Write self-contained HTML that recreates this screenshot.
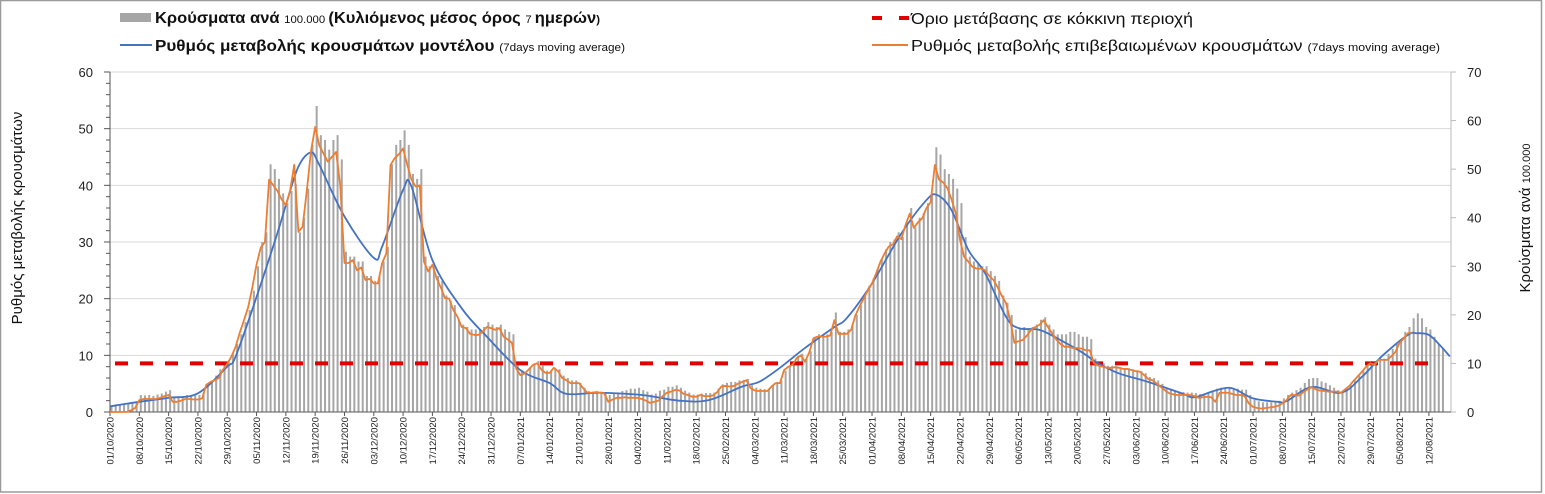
<!DOCTYPE html>
<html><head><meta charset="utf-8">
<style>
html,body{margin:0;padding:0;background:#fff;}
svg{display:block;font-family:"Liberation Sans",sans-serif;}
</style></head>
<body>
<svg id="chart" width="1545" height="494" viewBox="0 0 1545 494" xmlns="http://www.w3.org/2000/svg">
<rect x="0.5" y="0.5" width="1541" height="491.5" fill="#fff" stroke="#9a9a9a" stroke-width="1.5"/>
<g id="grid"></g>
<g id="bars"></g>
<g id="axes"></g>
<g id="lines"></g>
<g>
  <g>
    <rect x="120" y="13" width="31" height="9" fill="#a6a6a6"/>
    <text x="155" y="23" font-size="16" font-weight="600" fill="#111" textLength="445" lengthAdjust="spacingAndGlyphs">Κρούσματα ανά <tspan font-size="11" font-weight="normal">100.000 </tspan>(Κυλιόμενος μέσος όρος <tspan font-size="11" font-weight="normal">7 </tspan>ημερών<tspan font-size="11">)</tspan></text>
  </g>
  <g>
    <line x1="120" y1="45" x2="152" y2="45" stroke="#4472c4" stroke-width="2"/>
    <text x="155" y="51" font-size="16" font-weight="600" fill="#111" textLength="470" lengthAdjust="spacingAndGlyphs">Ρυθμός μεταβολής κρουσμάτων μοντέλου <tspan font-size="11" font-weight="normal">(7days moving average)</tspan></text>
  </g>
  <g>
    <line x1="872" y1="18" x2="882" y2="18" stroke="#e00000" stroke-width="4"/>
    <line x1="899" y1="18" x2="909" y2="18" stroke="#e00000" stroke-width="4"/>
    <text x="911" y="24" font-size="16" fill="#111" textLength="282" lengthAdjust="spacingAndGlyphs">Όριο μετάβασης σε κόκκινη περιοχή</text>
  </g>
  <g>
    <line x1="872" y1="45" x2="908" y2="45" stroke="#ed7d31" stroke-width="2"/>
    <text x="911" y="51" font-size="16" fill="#111" textLength="529" lengthAdjust="spacingAndGlyphs">Ρυθμός μεταβολής επιβεβαιωμένων κρουσμάτων <tspan font-size="11">(7days moving average)</tspan></text>
  </g>
</g>
<text transform="translate(22,218) rotate(-90)" text-anchor="middle" font-size="15" fill="#111">Ρυθμός μεταβολής κρουσμάτων</text>
<text transform="translate(1530,218) rotate(-90)" text-anchor="middle" font-size="15" fill="#111">Κρούσματα ανά <tspan font-size="11">100.000</tspan></text>
</svg>
<script>
const orangeValues = [
0,0,0,0,0,0.3,0.7,
2.1,2.3,2.3,2.3,2.3,2.5,2.8,
3.0,1.8,1.8,2.0,2.3,2.3,2.2,
2.2,2.4,4.8,5.3,5.6,6.0,7.5,
8.5,9.8,11.5,14,16.2,18.5,22,
26,29,30,41,40,39,37.5,
36.5,39,43.6,31.8,32.7,39,46,
50.3,47,45.6,44.2,45,45.9,40,
26.3,26.3,26.8,25,25.5,23.3,23.5,
22.7,22.7,26.3,28,43.6,44.8,45.5,
46.5,43.6,41,39.8,40,26.5,24.8,
26,23.6,22,20.1,20,18,16.8,
15,14.8,13.8,13.6,13.6,14.2,15,
14.8,14.5,14.8,13.3,12.8,12.2,7.7,
6.5,6.8,7.5,8.3,8.6,7.5,6.9,
6.9,7.8,7.2,6.0,5.6,5.1,5.1,
5.1,4.2,3.4,3.4,3.5,3.4,3.3,
1.8,2.2,2.5,2.5,2.6,2.5,2.5,
2.5,2.3,2.0,1.6,1.8,2.0,2.8,
3.4,3.6,3.9,3.8,3.2,3.0,2.7,
2.7,3.0,2.8,2.8,2.9,3.5,4.5,
4.6,4.5,4.6,5.0,5.3,5.6,4.2,
3.8,3.7,3.7,3.7,4.5,5.1,5.1,
7.4,8.0,8.3,9.5,10,8.9,10.5,
13,13.3,13.3,13.3,13.5,16.2,13.8,
13.8,13.8,14.5,17,18.6,20,21.5,
22.7,24.5,26.5,28,29.2,29.6,31,
30.5,33,35,32.5,33.5,34.2,36,
37,43.6,41,40.5,39.5,37.5,35.1,
30.4,27.4,26.5,25.6,25.3,25.3,25,
24,23.3,22,20.5,19.2,16.2,12.2,
12.5,12.7,13.5,14.5,15,15.4,16.2,
15,13.9,12.8,12,11.5,11.5,11.3,
11.3,11.2,10.9,10.9,8.6,8.2,8.0,
7.8,7.8,7.9,7.8,7.6,7.6,7.4,
7.2,7.1,6.5,5.8,5.6,5.0,4.4,
3.8,3.3,3.1,3.0,3.0,3.0,3.0,
2.8,2.5,2.6,2.7,2.6,1.8,3.4,
3.4,3.4,3.2,3.0,3.0,2.8,1.5,
0.9,0.7,0.6,0.7,0.8,0.9,1.1,
1.5,2.1,3.0,3.0,2.9,3.5,4.0,
4.4,4.0,3.8,3.7,3.6,3.6,3.6,
3.4,4.0,4.6,5.5,6.3,7.1,8.0,
8.6,8.3,9.2,9.2,9.2,9.8,10.6,
12.2,13,13.9,14];

const barValues = [
1.2,1.4,1.5,1.6,1.7,1.8,2.2,
3.5,3.4,3.5,3.3,3.6,3.8,4.2,
4.5,3.2,2.9,3.0,3.5,3.3,3.4,
3.5,4,5.5,6.5,7.5,8.8,10,
10.5,12,14,16,18.5,21,25,
30,35,37,51,50,48,45,
43,45.5,47,37,40,46,55,
63,57,56,54,56,57,52,
33,32,32,31,31,28,28,
27,28,31,34,51,55,56,
58,55,49,48,50,32,30,
30,28,27,24,23,22,19,
18,17.5,17,17,17,17.5,18.5,
18,17.5,18,17,16.5,16,10,
8.5,8,9,10,10.5,9.5,8.5,
8.5,9,8.8,7.5,7,6.5,6.5,
6,5,4.3,4.2,4.3,4.2,4.1,
3.5,3.8,4,4.3,4.5,4.8,4.8,
5,4.5,4.2,3.6,3.8,4.4,4.6,
5.2,5.2,5.5,5,4.4,4,3.6,
3.6,3.8,3.9,3.9,4,4.8,5.7,
6,6.2,6.2,6.5,6.6,6.8,5.5,
5,4.8,4.7,4.7,5.5,6.2,6.5,
8.5,9.5,10.5,11.5,12,11,12.5,
15.5,16,16,16,16.5,20.5,16.5,
16.5,17,18,20,22,24,26,
27.5,29.5,31.5,33.5,35,35.5,37,
36,39,42,38,40,41,43,
45,54.5,53,50,49,48,46,
43,36,32,31,30.5,30,30,
29,28,27,24,22.5,20,17,
17,17.5,17,17.5,18,19,19.5,
18,17,16,16,16,16.5,16.5,
16,15.5,15.5,15,11,10,10,
9.5,9.5,9.5,9.2,9,9,8.8,
8.6,8.4,8,7.2,7,6.5,5.8,
5,4.5,4.3,4.2,4.1,4,4,
3.9,3.7,3.8,4,4.4,4.8,5,
5,5,4.8,4.8,4.6,4.6,3.5,
2.5,2.2,2,2,2,2.1,2.3,
2.8,3.5,4,4.5,5,6,6.8,
7,7,6.3,6,5.5,5,4.5,
4,4.8,5.5,6.5,7.5,8.5,9.5,
10.5,10.5,11,11,12,13,14,
15,16.5,17.5,19.3,20.3,19.3,17.5,
17,15.5,14,13];

const blueDays = [0,7,14,21,28,30,35,40,42,45,48,50,56,63,65,70,72,77,84,90,98,105,109,117,127,136,143,151,155,160,166,173,176,182,189,195,197.5,201,205,209,214,217,222,227,232,236,241,248,256,259,264,268,273,279,281,287,294,299,304,310,312,315,318,320];
const blueValues = [1.0,1.8,2.5,3.3,8.0,9.8,20.3,31.6,36.5,43.3,45.8,43.6,34.5,27.2,29.2,39.2,39.8,26.8,18.3,13.3,7.4,5.1,3.2,3.4,3.0,2.0,2.1,4.5,5.3,7.8,11.3,15.0,16.6,22.7,31.5,37.4,38.3,35.6,28.6,24.5,16.8,14.8,14.5,12.7,10.6,8.6,6.8,5.3,3.3,2.6,3.8,4.2,2.4,1.8,1.9,4.4,3.4,6.2,10.0,13.6,13.9,13.6,11.5,9.8];

const leftTicks = [0,10,20,30,40,50,60];
const rightTicks = [0,10,20,30,40,50,60,70];
const thresholdValue = 10; // right axis units
const startDate = [2020,10,1]; // 01/10/2020 (year, month 1-12, day)
const weekCount = 46;

const X0 = 110, DAYPX = 4.187, YB = 412, YT = 72;
const xDay = d => X0 + d * DAYPX;
const yL = v => YB - v * (YB - YT) / 60;
const yR = v => YB - v * (YB - YT) / 70;
const NS = "http://www.w3.org/2000/svg";
function mk(tag, attrs, parent){const e=document.createElementNS(NS,tag);for(const k in attrs)e.setAttribute(k,attrs[k]);parent.appendChild(e);return e;}

const grid = document.getElementById('grid');
const axes = document.getElementById('axes');
const barsG = document.getElementById('bars');
const linesG = document.getElementById('lines');

leftTicks.forEach(v=>{
  if(v>0){
    const g = mk('line',{x1:X0,x2:1451,y1:yL(v),y2:yL(v),stroke:'#d9d9d9','stroke-width':1},grid);
    
    
  }
  const t = mk('text',{x:X0-17,y:yL(v)+5,'text-anchor':'end','font-size':13,fill:'#222'},axes);
  t.textContent = v;
  
  
});
for(let v=0; v<=60; v+=2){
  mk('line',{x1:X0-(v%10===0?6:4),x2:X0,y1:yL(v),y2:yL(v),stroke:'#555','stroke-width':1},axes);
}
mk('line',{x1:X0,x2:X0,y1:YT,y2:YB,stroke:'#555','stroke-width':1},axes);
mk('line',{x1:1451,x2:1451,y1:YT,y2:YB,stroke:'#bbb','stroke-width':1},axes);
rightTicks.forEach(v=>{
  mk('line',{x1:1451,x2:1456,y1:yR(v),y2:yR(v),stroke:'#bbb','stroke-width':1},axes);
  const t = mk('text',{x:1467,y:yR(v)+5,'font-size':13,fill:'#222'},axes);
  t.textContent = v;
  
  
});

barValues.forEach((v,i)=>{
  const b = mk('rect',{x:xDay(i)+0.5,y:yR(v),width:2,height:YB-yR(v),fill:'#a6a6a6'},barsG);
  
  
});

mk('line',{x1:X0,x2:1451,y1:YB,y2:YB,stroke:'#555','stroke-width':1},axes);
const pad = n => (n<10?'0':'')+n;
for(let w=0; w<weekCount; w++){
  const d = w*7;
  const x = xDay(d);
  mk('line',{x1:x,x2:x,y1:YB,y2:YB+4,stroke:'#555','stroke-width':1},axes);
  const dt = new Date(startDate[0],startDate[1]-1,startDate[2]+d);
  const lbl = pad(dt.getDate())+'/'+pad(dt.getMonth()+1)+'/'+dt.getFullYear();
  const t = mk('text',{transform:'translate('+(x+3.5)+',417) rotate(-90)','text-anchor':'end','font-size':9.5,fill:'#222'},axes);
  t.textContent = lbl;
  
  
}

const thr = mk('line',{x1:115,x2:1440,y1:yR(thresholdValue),y2:yR(thresholdValue),stroke:'#e00000','stroke-width':4,'stroke-dasharray':'13 12'},linesG);



const bp = blueDays.map((d,i)=>[xDay(d),yL(blueValues[i])]);
let dstr = 'M'+bp[0][0]+','+bp[0][1];
for(let i=0;i<bp.length-1;i++){
  const p0=bp[Math.max(0,i-1)],p1=bp[i],p2=bp[i+1],p3=bp[Math.min(bp.length-1,i+2)];
  const c1=[p1[0]+(p2[0]-p0[0])/6,p1[1]+(p2[1]-p0[1])/6];
  const c2=[p2[0]-(p3[0]-p1[0])/6,p2[1]-(p3[1]-p1[1])/6];
  dstr+=' C'+c1[0]+','+c1[1]+' '+c2[0]+','+c2[1]+' '+p2[0]+','+p2[1];
}
const blue = mk('path',{d:dstr,fill:'none',stroke:'#4472c4','stroke-width':1.8},linesG);



const op = orangeValues.map((v,i)=>xDay(i)+','+yL(v)).join(' ');
const orange = mk('polyline',{points:op,fill:'none',stroke:'#ed7d31','stroke-width':1.8,'stroke-linejoin':'round'},linesG);


</script>
</body></html>
